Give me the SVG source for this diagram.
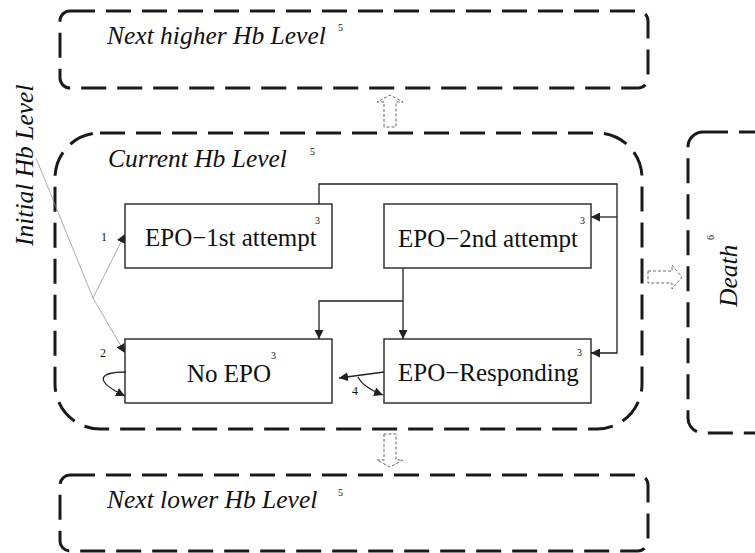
<svg xmlns="http://www.w3.org/2000/svg" width="755" height="553" viewBox="0 0 755 553">
<defs>
<style>
.lvl{fill:none;stroke:#1a1a1a;stroke-width:3;stroke-dasharray:25 11}
.blk{fill:none;stroke:#666;stroke-width:1;stroke-dasharray:3 2}
.box{fill:#fff;stroke:#333;stroke-width:1.5}
.con{fill:none;stroke:#222;stroke-width:1.3}
.thin{fill:none;stroke:#888;stroke-width:0.7}
text{font-family:'Liberation Serif','Times New Roman','DejaVu Serif',serif;fill:#111}
.it{font-style:italic;font-size:25.5px}
.rm{font-size:25px}
.sup{font-size:10px}
.lab{font-size:12px}
</style>
<marker id="ah" viewBox="0 0 10 10" refX="10" refY="5" markerWidth="9" markerHeight="9" markerUnits="userSpaceOnUse" orient="auto">
<path d="M0,0 L10,5 L0,10 z" fill="#222"/>
</marker>
</defs>

<g id="next-higher">
<rect class="lvl" x="60" y="11" width="588" height="77" rx="10"/>
<text class="it" x="107" y="44">Next higher Hb Level</text>
<text class="sup" x="338" y="31">5</text>
</g>

<g id="current">
<rect class="lvl" x="55" y="133" width="587" height="296" rx="45"/>
<text class="it" x="108" y="167">Current Hb Level</text>
<text class="sup" x="310" y="155">5</text>
</g>

<g id="next-lower">
<rect class="lvl" x="60" y="475" width="588" height="76" rx="10"/>
<text class="it" x="107" y="508">Next lower Hb Level</text>
<text class="sup" x="338" y="496">5</text>
</g>

<g id="death">
<rect class="lvl" x="688" y="132" width="120" height="301" rx="15"/>
<text class="it" transform="translate(737,307) rotate(-90)">Death</text>
<text class="sup" transform="translate(714,240) rotate(-90)">6</text>
</g>

<g id="initial">
<text class="it" transform="translate(33,246) rotate(-90)">Initial Hb Level</text>
</g>

<g id="epo1">
<rect class="box" x="125" y="204" width="207" height="64"/>
<text class="rm" x="145" y="246">EPO−1st attempt</text>
<text class="sup" x="315" y="224">3</text>
</g>

<g id="epo2">
<rect class="box" x="384" y="204" width="207" height="64"/>
<text class="rm" x="398" y="247">EPO−2nd attempt</text>
<text class="sup" x="580" y="224">3</text>
</g>

<g id="noepo">
<rect class="box" x="125" y="339" width="207" height="64"/>
<text class="rm" x="187" y="382">No EPO</text>
<text class="sup" x="271" y="359">3</text>
</g>

<g id="epor">
<rect class="box" x="384" y="339" width="207" height="64"/>
<text class="rm" x="398" y="381">EPO−Responding</text>
<text class="sup" x="577" y="356">3</text>
</g>

<g id="connectors">
<path class="blk" d="M384,127 V102 H377 L390,95 L403,102 H396 V127 Z"/>
<path class="blk" d="M384,434 V460 H377 L390,467 L403,460 H396 V434 Z"/>
<path class="blk" d="M648,271 H672 V265 L682,277 L672,289 V283 H648 Z"/>

<path class="thin" d="M36,158 L93,298"/>
<path class="thin" d="M93,298 L125,353" marker-end="url(#ah)"/>
<path class="thin" d="M93,298 L125,234" marker-end="url(#ah)"/>

<path class="con" d="M319,204 V184 H617 V353 H591" marker-end="url(#ah)"/>
<path class="con" d="M617,217 H591" marker-end="url(#ah)"/>
<path class="con" d="M403,268 V339" marker-end="url(#ah)"/>
<path class="con" d="M403,301 H319 V339" marker-end="url(#ah)"/>
<path class="con" d="M126,372 C100,372 92,380 125,396" marker-end="url(#ah)"/>
<path class="con" d="M384,372 L339,378" marker-end="url(#ah)"/>
<path class="con" d="M358,377 C362,385 370,390 383,395" marker-end="url(#ah)"/>

<text class="lab" x="101" y="241">1</text>
<text class="lab" x="100" y="357">2</text>
<text class="lab" x="352" y="395">4</text>
</g>
</svg>
